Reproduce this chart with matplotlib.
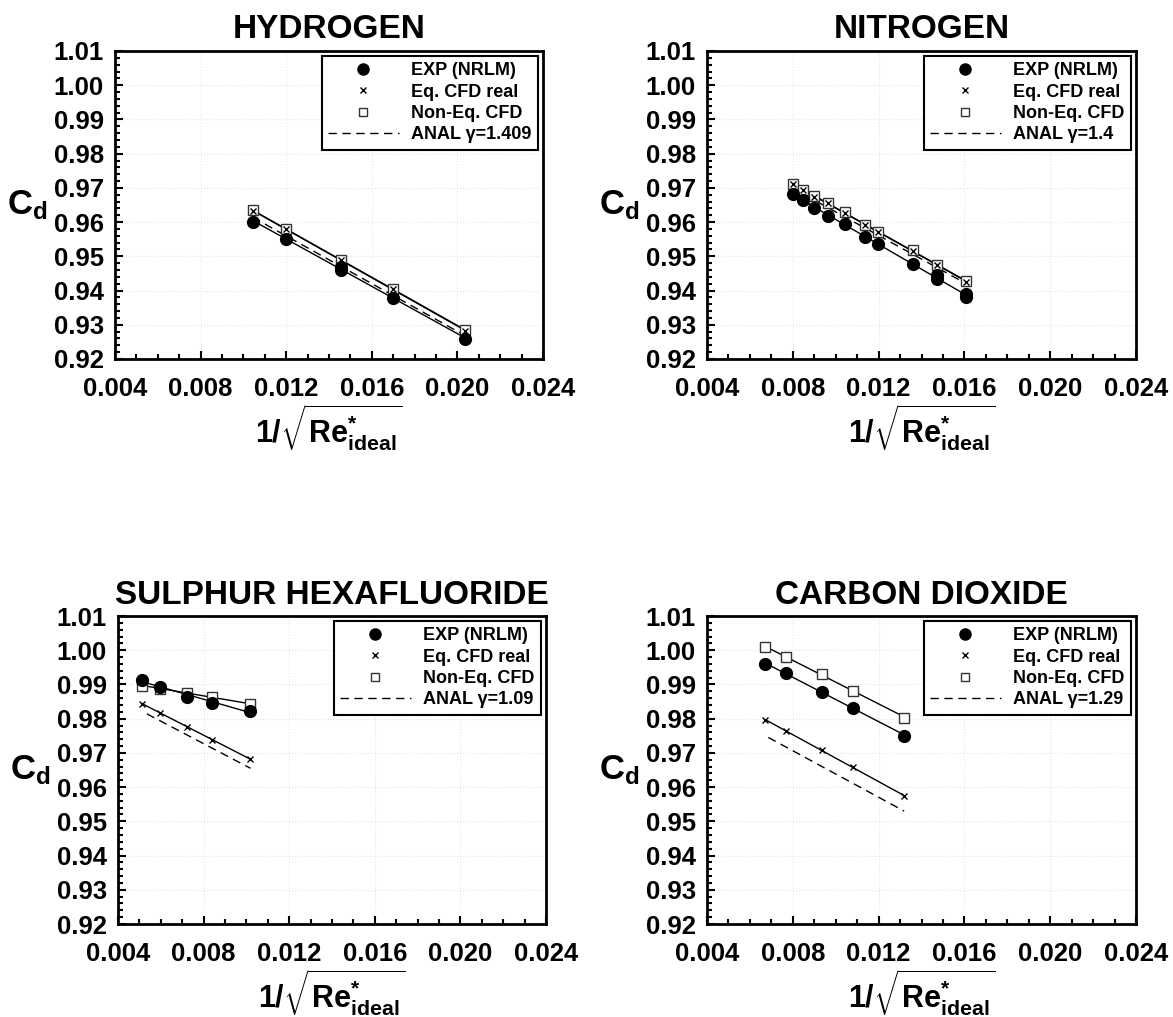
import numpy as np
import matplotlib
matplotlib.use("Agg")
import matplotlib.pyplot as plt
from matplotlib.lines import Line2D
from matplotlib.ticker import MultipleLocator, FormatStrFormatter

plt.rcParams['font.family'] = ['Liberation Sans', 'DejaVu Sans']
plt.rcParams['font.weight'] = 'bold'
plt.rcParams['mathtext.fontset'] = 'custom'
plt.rcParams['mathtext.rm'] = 'Liberation Sans:bold'
plt.rcParams['mathtext.it'] = 'Liberation Sans:bold'
plt.rcParams['mathtext.bf'] = 'Liberation Sans:bold'

# ---------------- data ----------------
# Hydrogen
h2_exp_x = [0.01044, 0.01198, 0.01458, 0.01458, 0.01698, 0.02037]
h2_exp_y = [0.9601, 0.9550, 0.9470, 0.9460, 0.9379, 0.9258]
h2_cfd_x = [0.01044, 0.01198, 0.01458, 0.01698, 0.02037]
h2_eq_y = [0.9633, 0.9579, 0.9489, 0.9404, 0.9282]
h2_neq_y = [0.9634, 0.9580, 0.9490, 0.9405, 0.9284]
h2_anal_x = [0.01044, 0.02037]
h2_anal_y = [0.9614, 0.9268]

# Nitrogen
n2_exp_x = [0.00802, 0.00849, 0.00900, 0.00964, 0.01042, 0.01137,
            0.01198, 0.01359, 0.01470, 0.01470, 0.01609, 0.01609]
n2_exp_y = [0.9681, 0.9664, 0.9642, 0.9618, 0.9594, 0.9557,
            0.9535, 0.9477, 0.9445, 0.9433, 0.9389, 0.9382]
n2_cfd_x = [0.00802, 0.00849, 0.00900, 0.00964, 0.01042, 0.01137,
            0.01198, 0.01359, 0.01470, 0.01609]
n2_eq_y = [0.9710, 0.9694, 0.9674, 0.9655, 0.9628, 0.9592,
           0.9570, 0.9517, 0.9475, 0.9426]
n2_neq_y = [0.9711, 0.9695, 0.9675, 0.9656, 0.9629, 0.9593,
            0.9571, 0.9518, 0.9476, 0.9427]
n2_anal_x = [0.00802, 0.01609]
n2_anal_y = [0.9698, 0.9420]

# Sulphur hexafluoride
sf6_x = [0.00514, 0.00594, 0.00724, 0.00838, 0.01019]
sf6_exp_y = [0.9913, 0.9893, 0.9864, 0.9847, 0.9822]
sf6_eq_y = [0.9843, 0.9818, 0.9777, 0.9738, 0.9682]
sf6_neq_y = [0.9896, 0.9888, 0.9876, 0.9864, 0.9842]
sf6_anal_x = [0.00535, 0.01019]
sf6_anal_y = [0.9814, 0.9655]

# Carbon dioxide
co2_x = [0.00672, 0.00768, 0.00938, 0.01082, 0.01319]
co2_exp_y = [0.9959, 0.9932, 0.9879, 0.9832, 0.9750]
co2_eq_y = [0.9796, 0.9764, 0.9707, 0.9658, 0.9574]
co2_neq_y = [1.0008, 0.9981, 0.9930, 0.9882, 0.9803]
co2_anal_x = [0.00686, 0.01319]
co2_anal_y = [0.9745, 0.9530]

titles = ['HYDROGEN', 'NITROGEN', 'SULPHUR HEXAFLUORIDE', 'CARBON DIOXIDE']
gammas = ['1.409', '1.4', '1.09', '1.29']
series_labels = ['EXP (NRLM)', 'Eq. CFD real', 'Non-Eq. CFD']

panels = [
    (h2_exp_x, h2_exp_y, h2_cfd_x, h2_eq_y, h2_cfd_x, h2_neq_y, h2_anal_x, h2_anal_y),
    (n2_exp_x, n2_exp_y, n2_cfd_x, n2_eq_y, n2_cfd_x, n2_neq_y, n2_anal_x, n2_anal_y),
    (sf6_x, sf6_exp_y, sf6_x, sf6_eq_y, sf6_x, sf6_neq_y, sf6_anal_x, sf6_anal_y),
    (co2_x, co2_exp_y, co2_x, co2_eq_y, co2_x, co2_neq_y, co2_anal_x, co2_anal_y),
]

# ---------------- figure ----------------
W, H = 1173, 1017
fig = plt.figure(figsize=(W / 100, H / 100), dpi=100)

# axes boxes in pixels: left, top, width, height
boxes = [(115, 51, 428, 308), (707, 51, 429, 308),
         (118, 616, 428, 308), (707, 616, 429, 308)]

DASH = (0, (6, 4))


def fit_line(ax, x, y):
    x = np.asarray(x)
    y = np.asarray(y)
    k, b = np.polyfit(x, y, 1)
    xs = np.array([x.min(), x.max()])
    ax.plot(xs, k * xs + b, color='black', lw=1.0, zorder=2)


for (l, t, w, h), title, gam, p in zip(boxes, titles, gammas, panels):
    ax = fig.add_axes([l / W, 1 - (t + h) / H, w / W, h / H])
    ex, ey, qx, qy, nx, ny, ax_, ay_ = p

    fit_line(ax, ex, ey)
    fit_line(ax, qx, qy)
    fit_line(ax, nx, ny)
    ax.plot(ax_, ay_, color='black', lw=1.0, linestyle=DASH, zorder=2)

    ax.plot(nx, ny, linestyle='none', marker='s', ms=6.5, mfc='white',
            mec='#333333', mew=1.0, zorder=3)
    ax.plot(ex, ey, linestyle='none', marker='o', ms=8.5, mfc='black',
            mec='black', zorder=4)
    ax.plot(qx, qy, linestyle='none', marker='x', ms=5, mec='black',
            mew=1.0, zorder=5)

    ax.set_xlim(0.004, 0.024)
    ax.set_ylim(0.92, 1.01)
    ax.xaxis.set_major_locator(MultipleLocator(0.004))
    ax.xaxis.set_minor_locator(MultipleLocator(0.001))
    ax.yaxis.set_major_locator(MultipleLocator(0.01))
    ax.yaxis.set_minor_locator(MultipleLocator(0.002))
    ax.xaxis.set_major_formatter(FormatStrFormatter('%.3f'))
    ax.yaxis.set_major_formatter(FormatStrFormatter('%.2f'))

    ax.tick_params(which='both', direction='in', top=False, right=False,
                   width=1.5, labelsize=18.5)
    ax.tick_params(which='major', length=6)
    ax.tick_params(which='minor', length=3.5)
    ax.tick_params(axis='x', which='major', pad=13)
    ax.tick_params(axis='y', which='major', pad=8)
    for lab in ax.get_xticklabels() + ax.get_yticklabels():
        lab.set_fontweight('bold')
    for s in ax.spines.values():
        s.set_linewidth(2.0)

    ax.grid(True, which='major', color='#e4e4e4', linestyle=':', linewidth=0.8)
    ax.set_axisbelow(True)

    ax.set_title(title, fontsize=24, fontweight='bold', pad=9)

    ax.set_ylabel(r'$\mathrm{C_d}$', fontsize=25, rotation=0,
                  ha='center', va='center')
    ax.yaxis.set_label_coords(-0.205, 0.5)
    ax.set_xlabel(r'$1/\sqrt{\mathrm{Re}^{*}_{\mathrm{ideal}}}$', fontsize=22,
                  va='top')
    ax.xaxis.set_label_coords(0.5, -0.14)

    handles = [
        Line2D([], [], linestyle='none', marker='o', ms=8, mfc='black', mec='black'),
        Line2D([], [], linestyle='none', marker='x', ms=4.5, mec='black', mew=1.0),
        Line2D([], [], linestyle='none', marker='s', ms=6, mfc='white',
               mec='#333333', mew=1.0),
        Line2D([], [], color='black', lw=1.0, linestyle=DASH),
    ]
    labels = series_labels + ['ANAL \u03b3=' + gam]
    leg = ax.legend(handles, labels, loc='upper right',
                    bbox_to_anchor=(1 - 5 / w, 1 - 5 / h), borderaxespad=0,
                    prop={'size': 13, 'weight': 'bold'}, frameon=True,
                    fancybox=False, shadow=False, handlelength=3.9,
                    handletextpad=0.7, labelspacing=0.24, borderpad=0.35)
    fr = leg.get_frame()
    fr.set_edgecolor('black')
    fr.set_linewidth(1.5)
    fr.set_alpha(1)

fig.savefig('out.png', dpi=100, facecolor='white')
